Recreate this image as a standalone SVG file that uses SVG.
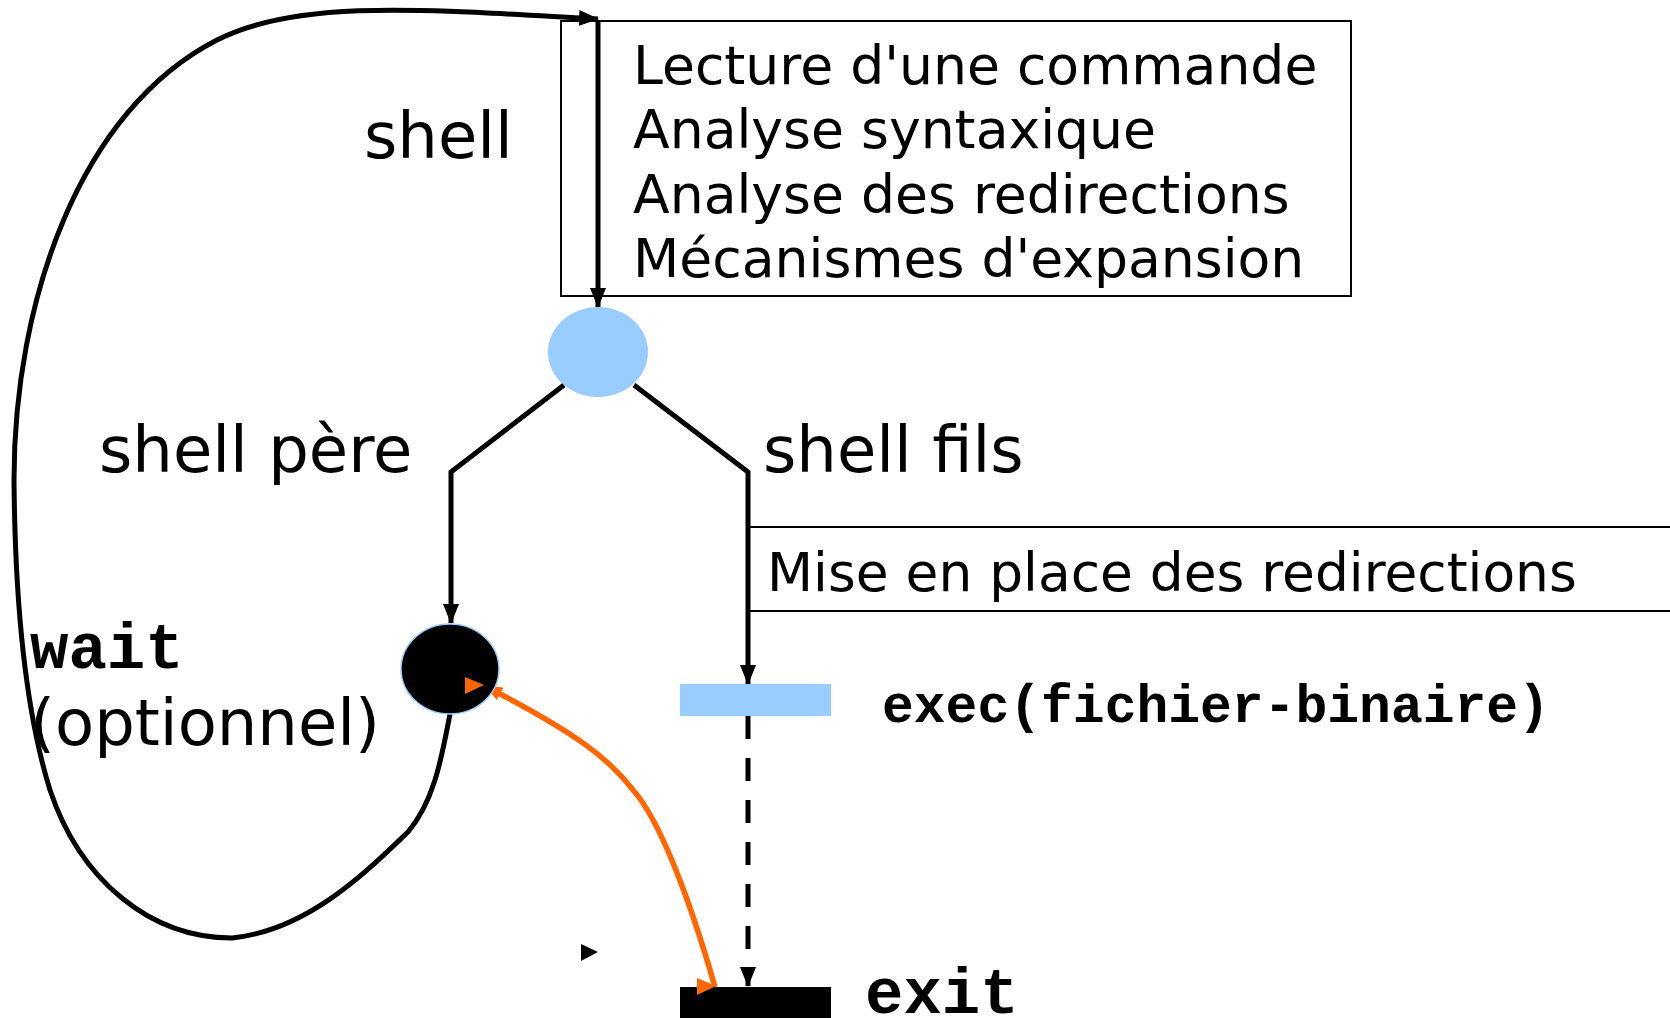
<svg xmlns="http://www.w3.org/2000/svg" width="1670" height="1018" viewBox="0 0 1670 1018">
<defs>
<style>
.sans{font-family:"DejaVu Sans","Liberation Sans",sans-serif;fill:#000}
.mono{font-family:"Liberation Mono","Courier New",monospace;font-weight:bold;fill:#000}
.line{fill:none;stroke:#000;stroke-width:5}
.box{fill:none;stroke:#000;stroke-width:2}
</style>
<marker id="ah" markerUnits="userSpaceOnUse" markerWidth="20" markerHeight="18" refX="19" refY="8" orient="auto" viewBox="0 0 20 16">
<path d="M0,0 L20,8 L0,16 Z" fill="#000"/>
</marker>
<marker id="ahO" markerUnits="userSpaceOnUse" markerWidth="18" markerHeight="16" refX="17" refY="7" orient="auto" viewBox="0 0 18 14">
<path d="M0,0 L18,7 L0,14 Z" fill="#FF6600"/>
</marker>
</defs>
<rect width="1670" height="1018" fill="#fff"/>

<g id="box-shell">
<rect class="box" x="561" y="21" width="790" height="275"/>
<text class="sans" font-size="53.6" x="633" y="84">Lecture d'une commande</text>
<text class="sans" font-size="53.6" x="633" y="148">Analyse syntaxique</text>
<text class="sans" font-size="53.6" x="633" y="213">Analyse des redirections</text>
<text class="sans" font-size="53.6" x="633" y="277">Mécanismes d'expansion</text>
</g>

<g id="box-redir">
<rect class="box" x="749" y="527" width="1000" height="84"/>
<text class="sans" font-size="53.4" x="767" y="591">Mise en place des redirections</text>
</g>

<g id="labels">
<text class="sans" font-size="64" x="364" y="158">shell</text>
<text class="sans" font-size="64" x="99" y="472">shell père</text>
<text class="sans" font-size="64" x="763" y="472">shell fils</text>
<text class="mono" font-size="64" x="30" y="668">wait</text>
<text class="sans" font-size="64" x="30" y="745">(optionnel)</text>
</g>

<g id="connectors">
<path class="line" d="M450,714 C442,755 435,800 408,832 C370,868 310,930 232,938 C150,938 80,880 50,790 C25,710 15,600 14,480 C14,300 80,110 217,40 C300,-2 430,10 598,19" marker-end="url(#ah)"/>
<line class="line" x1="598" y1="21" x2="598" y2="307" marker-end="url(#ah)"/>
<polyline class="line" points="564,385 451,472 451,623" marker-end="url(#ah)"/>
<polyline class="line" points="634,385 748,472 748,684" marker-end="url(#ah)"/>
<line class="line" x1="748" y1="716" x2="748" y2="986" stroke-dasharray="23 19" marker-end="url(#ah)"/>
<path d="M715,987 C690,900 660,820 633,790 C610,760 580,735 485,686" fill="none" stroke="#FF6600" stroke-width="5.5" marker-end="url(#ahO)"/>
<path d="M581,944 L598,952 L581,961 Z" fill="#000"/>
</g>

<g id="fork">
<ellipse cx="598" cy="352" rx="50" ry="45" fill="#99CCFF"/>
</g>
<g id="wait-node">
<ellipse cx="450" cy="669" rx="49" ry="45" fill="#000" stroke="#99CCFF" stroke-width="1.5"/>
<path d="M465,677 L484,685 L465,694 Z" fill="#FF6600"/>
</g>
<g id="exec-bar">
<rect x="680" y="684" width="151" height="32" fill="#99CCFF"/>
<text class="mono" font-size="53" x="882" y="722">exec(fichier-binaire)</text>
</g>
<g id="exit-bar">
<rect x="680" y="987" width="151" height="31" fill="#000"/>
<path d="M697,978 L716,986 L697,995 Z" fill="#FF6600"/>
<text class="mono" font-size="64" x="865" y="1013">exit</text>
</g>
</svg>
